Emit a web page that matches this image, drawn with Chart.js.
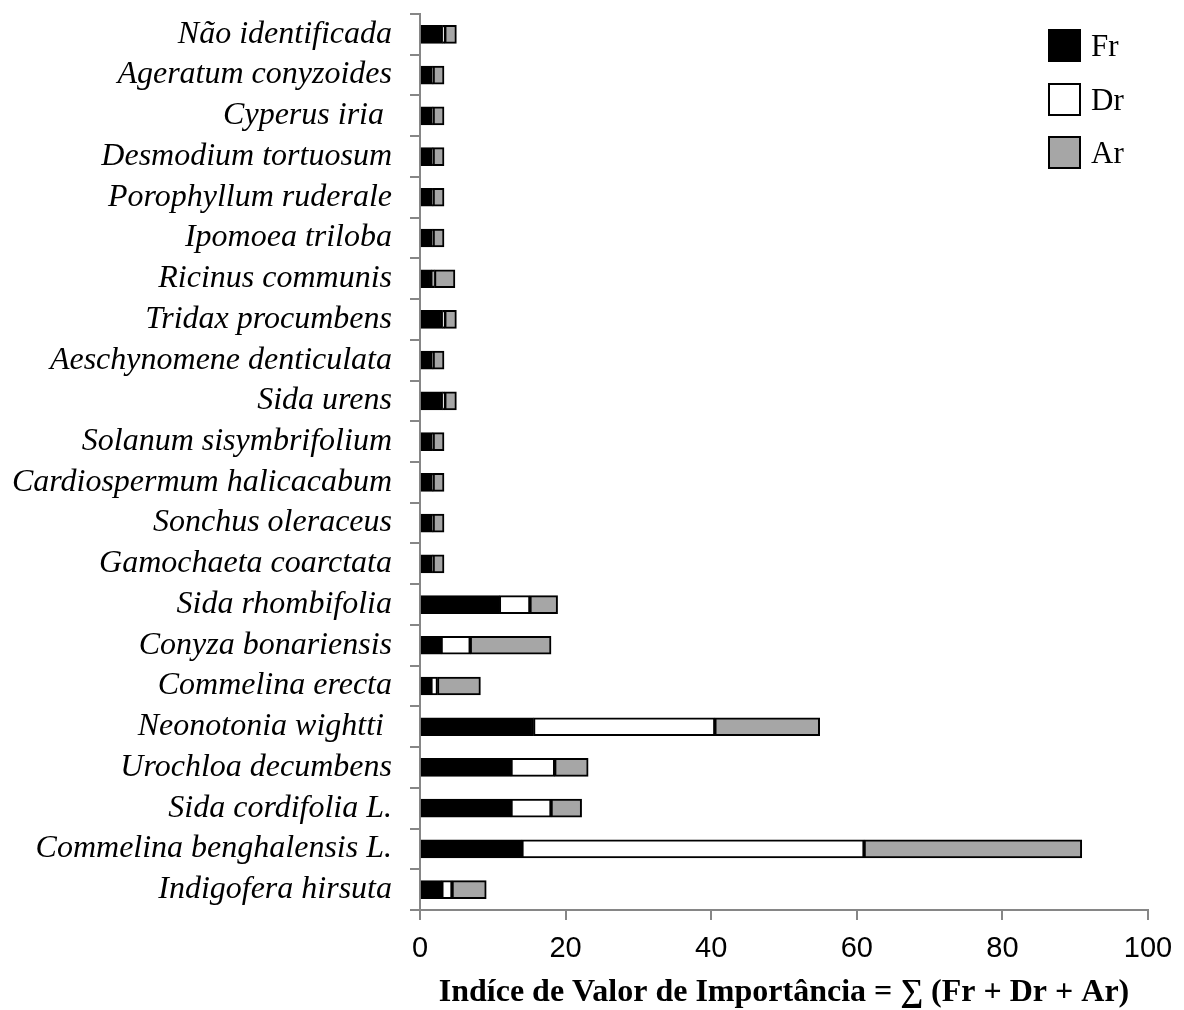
<!DOCTYPE html>
<html>
<head>
<meta charset="utf-8">
<script src="https://cdn.jsdelivr.net/npm/chart.js@4.4.0/dist/chart.umd.min.js"></script>
<style>
  html, body { margin: 0; padding: 0; background: #fff; }
  #wrap { width: 1184px; height: 1010px; position: relative; }
</style>
</head>
<body>
<div id="wrap"><canvas id="c"></canvas></div>
<script>
const species = [
  "Não identificada",
  "Ageratum conyzoides",
  "Cyperus iria ",
  "Desmodium tortuosum",
  "Porophyllum ruderale",
  "Ipomoea triloba",
  "Ricinus communis",
  "Tridax procumbens",
  "Aeschynomene denticulata",
  "Sida urens",
  "Solanum sisymbrifolium",
  "Cardiospermum halicacabum",
  "Sonchus oleraceus",
  "Gamochaeta coarctata",
  "Sida rhombifolia",
  "Conyza bonariensis",
  "Commelina erecta",
  "Neonotonia wightti ",
  "Urochloa decumbens",
  "Sida cordifolia L.",
  "Commelina benghalensis L.",
  "Indigofera hirsuta"
];
const frValues = [3.1, 1.7, 1.7, 1.7, 1.7, 1.7, 1.6, 3.1, 1.7, 3.1, 1.7, 1.7, 1.7, 1.7, 10.9, 2.9, 1.5, 15.6, 12.5, 12.5, 14.0, 3.0];
const drValues = [0.3, 0.1, 0.1, 0.1, 0.1, 0.1, 0.4, 0.3, 0.1, 0.3, 0.1, 0.1, 0.1, 0.1, 4.2, 4.0, 0.9, 24.9, 6.0, 5.5, 47.0, 1.4];
const arValues = [1.6, 1.5, 1.5, 1.5, 1.5, 1.5, 2.8, 1.6, 1.5, 1.6, 1.5, 1.5, 1.5, 1.5, 3.8, 11.1, 5.9, 14.4, 4.6, 4.2, 29.9, 4.7];
const xTicks = [0, 20, 40, 60, 80, 100];
const seriesNames = ["Fr", "Dr", "Ar"];
const xTitle = "Indíce de Valor de Importância = ∑ (Fr + Dr + Ar)";

const fills = ["#000000", "#ffffff", "#a6a6a6"];
const axisGray = "#868686";

const legendPlugin = {
  id: 'customLegend',
  afterDraw(chart) {
    const ctx = chart.ctx;
    ctx.save();
    const x0 = 1048, size = 33, ys = [29, 83, 136];
    chart.data.datasets.forEach((ds, i) => {
      ctx.fillStyle = ds.backgroundColor;
      ctx.fillRect(x0, ys[i], size, size);
      ctx.lineWidth = 2;
      ctx.strokeStyle = "#000";
      ctx.strokeRect(x0 + 1, ys[i] + 1, size - 2, size - 2);
      ctx.fillStyle = "#000";
      ctx.font = "31px 'Liberation Serif'";
      ctx.textBaseline = "middle";
      ctx.textAlign = "left";
      ctx.fillText(ds.label, x0 + size + 10, ys[i] + size / 2 + 2);
    });
    ctx.restore();
  }
};

new Chart(document.getElementById('c'), {
  type: 'bar',
  data: {
    labels: species,
    datasets: [frValues, drValues, arValues].map((vals, i) => ({
      label: seriesNames[i],
      data: vals,
      backgroundColor: fills[i],
      borderColor: "#000",
      borderWidth: 2,
      borderSkipped: false,
      barThickness: 18
    }))
  },
  options: {
    indexAxis: 'y',
    responsive: true,
    maintainAspectRatio: false,
    animation: false,
    layout: { padding: { top: 14, right: 36, bottom: 0, left: 0 } },
    plugins: {
      legend: { display: false },
      tooltip: { enabled: false }
    },
    scales: {
      x: {
        stacked: true,
        min: 0,
        max: 100,
        afterBuildTicks(scale) { scale.ticks = xTicks.map(v => ({ value: v })); },
        afterFit(scale) { scale.height = 100; scale.paddingLeft = 0; scale.paddingRight = 0; },
        grid: { drawOnChartArea: false, drawTicks: true, tickLength: 10, color: axisGray, lineWidth: 2 },
        border: { display: true, color: axisGray, width: 2 },
        ticks: {
          color: "#000",
          padding: 12,
          font: { family: "'Liberation Sans'", size: 29 }
        },
        title: {
          display: true,
          text: xTitle,
          color: "#000",
          font: { family: "'Liberation Serif'", size: 32, weight: 'bold', lineHeight: 1.0 },
          padding: { top: 4, bottom: 1 }
        }
      },
      y: {
        stacked: true,
        afterFit(scale) { scale.width = 420; scale.paddingTop = 0; scale.paddingBottom = 0; },
        grid: { drawOnChartArea: false, drawTicks: true, tickLength: 10, color: axisGray, lineWidth: 2, offset: true },
        border: { display: true, color: axisGray, width: 2 },
        ticks: {
          color: "#000",
          padding: 18,
          autoSkip: false,
          font: { family: "'Liberation Serif'", size: 32, style: 'italic' }
        }
      }
    }
  },
  plugins: [legendPlugin]
});
</script>
</body>
</html>
